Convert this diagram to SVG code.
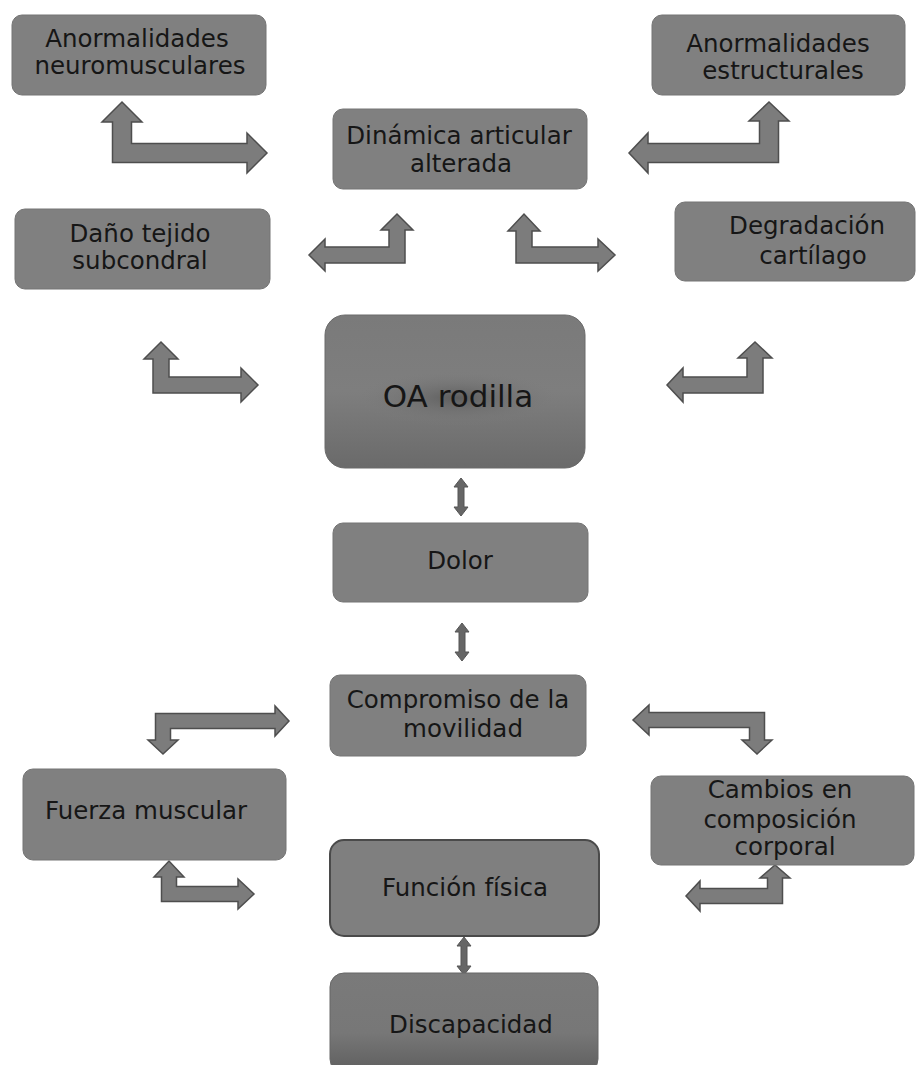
<svg xmlns="http://www.w3.org/2000/svg" width="918" height="1065" viewBox="0 0 918 1065">
<style>
.box{fill:#808080;stroke:#747474;stroke-width:1}
.t{font-family:"DejaVu Sans",sans-serif;font-size:24.5px;fill:#161616;text-anchor:middle}
.arr{fill:#7c7c7c;stroke:#4e4e4e;stroke-width:1.5;stroke-linejoin:miter}
.dbl{fill:#666;stroke:#555;stroke-width:1}
</style>
<defs>
<linearGradient id="gOA" x1="0" y1="0" x2="0" y2="1">
<stop offset="0" stop-color="#7a7a7a"/>
<stop offset="0.5" stop-color="#7e7e7e"/>
<stop offset="1" stop-color="#6a6a6a"/>
</linearGradient>
<radialGradient id="glow" cx="0.5" cy="0.5" r="0.5">
<stop offset="0" stop-color="#5a5a5a" stop-opacity="0.9"/>
<stop offset="1" stop-color="#7e7e7e" stop-opacity="0"/>
</radialGradient>
<linearGradient id="gDis" x1="0" y1="0" x2="0" y2="1">
<stop offset="0" stop-color="#7a7a7a"/>
<stop offset="0.6" stop-color="#777"/>
<stop offset="1" stop-color="#5e5e5e"/>
</linearGradient>
<path id="dblv" d="M0,0 L7,9 L3,9 L3,29 L7,29 L0,38 L-7,29 L-3,29 L-3,9 L-7,9 Z"/>
</defs>
<rect width="918" height="1065" fill="#ffffff"/>

<g id="connectors">
<path class="arr" d="M112.5,162.5 L112.5,122 L102,122 L122,102 L142,122 L131.5,122 L131.5,143.5 L247,143.5 L247,133 L267,153 L247,173 L247,162.5 Z"/>
<path class="arr" d="M778.5,162.5 L778.5,121 L789,121 L769,102 L749,121 L759.5,121 L759.5,143.5 L648,143.5 L648,133 L629,153 L648,173 L648,162.5 Z"/>
<path class="arr" d="M405,263 L405,230 L413,230 L397,214 L381,230 L389,230 L389,247 L325,247 L325,239 L309,255 L325,271 L325,263 Z"/>
<path class="arr" d="M516,263 L516,231 L508,231 L524,214 L540,231 L532,231 L532,247 L598,247 L598,239 L615,255 L598,271 L598,263 Z"/>
<path class="arr" d="M153,393 L153,359 L144,359 L161,342 L178,359 L169,359 L169,377 L241,377 L241,368 L258,385 L241,402 L241,393 Z"/>
<path class="arr" d="M763,393 L763,358 L772,358 L755,342 L738,358 L747,358 L747,377 L683,377 L683,368 L667,385 L683,402 L683,393 Z"/>
<path class="arr" d="M155.5,713.5 L155.5,740 L148,740 L163,754 L178,740 L170.5,740 L170.5,728.5 L275,728.5 L275,736 L289,721 L275,706 L275,713.5 Z"/>
<path class="arr" d="M161.5,901.5 L161.5,877 L154,877 L169,861 L184,877 L176.5,877 L176.5,886.5 L238,886.5 L238,879 L254,894 L238,909 L238,901.5 Z"/>
<path class="arr" d="M764.5,712.5 L764.5,740 L772,740 L757,754 L742,740 L749.5,740 L749.5,727.5 L649,727.5 L649,735 L633,720 L649,705 L649,712.5 Z"/>
<path class="arr" d="M782.5,903.5 L782.5,878 L790,878 L775,865 L760,878 L767.5,878 L767.5,888.5 L700,888.5 L700,881 L686,896 L700,911 L700,903.5 Z"/>
<use href="#dblv" class="dbl" x="461" y="478"/>
<use href="#dblv" class="dbl" x="462" y="623"/>
<use href="#dblv" class="dbl" x="464" y="937"/>
</g>

<g id="n-neuro">
<rect class="box" x="12" y="15" width="254" height="80" rx="10"/>
<text class="t" x="137" y="47">Anormalidades</text>
<text class="t" x="140" y="74">neuromusculares</text>
</g>
<g id="n-estruct">
<rect class="box" x="652" y="15" width="253" height="80" rx="10"/>
<text class="t" x="778" y="52">Anormalidades</text>
<text class="t" x="783" y="79">estructurales</text>
</g>
<g id="n-dinamica">
<rect class="box" x="333" y="109" width="254" height="80" rx="10"/>
<text class="t" x="459" y="144">Dinámica articular</text>
<text class="t" x="461" y="172">alterada</text>
</g>
<g id="n-dano">
<rect class="box" x="15" y="209" width="255" height="80" rx="10"/>
<text class="t" x="140" y="242">Daño tejido</text>
<text class="t" x="140" y="269">subcondral</text>
</g>
<g id="n-degrad">
<rect class="box" x="675" y="202" width="240" height="79" rx="10"/>
<text class="t" x="807" y="234">Degradación</text>
<text class="t" x="813" y="264">cartílago</text>
</g>
<g id="n-oa">
<rect x="325" y="315" width="260" height="153" rx="20" fill="url(#gOA)" stroke="#6a6a6a" stroke-width="1"/>
<ellipse cx="458" cy="398" rx="105" ry="28" fill="url(#glow)"/>
<text class="t" x="458" y="407" style="font-size:31px">OA rodilla</text>
</g>
<g id="n-dolor">
<rect class="box" x="333" y="523" width="255" height="79" rx="10"/>
<text class="t" x="460" y="569">Dolor</text>
</g>
<g id="n-comp">
<rect class="box" x="330" y="675" width="256" height="81" rx="10"/>
<text class="t" x="458" y="708">Compromiso de la</text>
<text class="t" x="463" y="737">movilidad</text>
</g>
<g id="n-fuerza">
<rect class="box" x="23" y="769" width="263" height="91" rx="10"/>
<text class="t" x="146" y="819">Fuerza muscular</text>
</g>
<g id="n-cambios">
<rect class="box" x="651" y="776" width="263" height="89" rx="10"/>
<text class="t" x="780" y="798">Cambios en</text>
<text class="t" x="780" y="828">composición</text>
<text class="t" x="785" y="855">corporal</text>
</g>
<g id="n-funcion">
<rect x="330" y="840" width="269" height="96" rx="14" fill="#7f7f7f" stroke="#4a4a4a" stroke-width="2"/>
<text class="t" x="465" y="896">Función física</text>
</g>
<g id="n-discap">
<rect x="330" y="973" width="268" height="100" rx="14" fill="url(#gDis)" stroke="#666" stroke-width="1"/>
<text class="t" x="471" y="1033">Discapacidad</text>
</g>
</svg>
